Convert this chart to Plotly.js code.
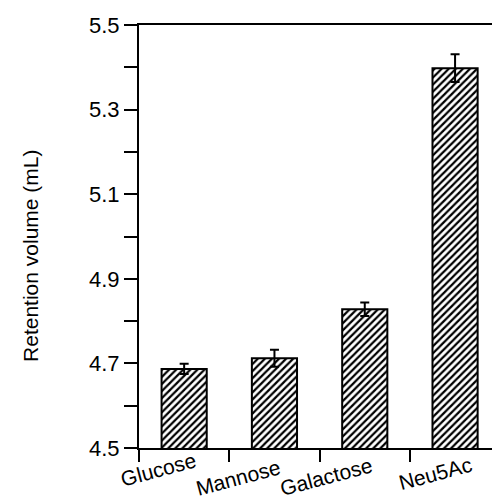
<!DOCTYPE html>
<html>
<head>
<meta charset="utf-8">
<script src="https://cdn.plot.ly/plotly-3.0.1.min.js"></script>
<style>html,body{margin:0;padding:0;background:#fff;}#chart{width:492px;height:500px;}</style>
</head>
<body>
<div id="chart"></div>
<script>
var categories = ["Glucose", "Mannose", "Galactose", "Neu5Ac"];
var retention = [4.687, 4.712, 4.828, 5.398];
var errors = [0.012, 0.020, 0.016, 0.033];
var yTickVals = [4.5, 4.7, 4.9, 5.1, 5.3, 5.5];
var yTickText = ["4.5", "4.7", "4.9", "5.1", "5.3", "5.5"];
var yTitle = "Retention volume (mL)";

var xIdx = categories.map(function (c, i) { return i; });
var boundaries = categories.map(function (c, i) { return i - 0.5; });

// label placement (layout only)
var labelShift = [-26, -36, -38, -20];
var labelY = [-0.052, -0.070, -0.068, -0.061];

var font = "Liberation Sans, Arial, sans-serif";

var trace = {
  type: "bar",
  x: xIdx,
  y: retention,
  width: 0.5,
  marker: {
    color: "white",
    line: { color: "black", width: 2 },
    pattern: { shape: "/", size: 5, solidity: 0.45, fgcolor: "black", bgcolor: "white" }
  },
  error_y: { type: "data", array: errors, visible: true, color: "black", thickness: 2, width: 4.5 },
  hoverinfo: "skip"
};

var annotations = categories.map(function (c, i) {
  return {
    text: c, x: i, xref: "x", y: labelY[i], yref: "paper",
    xanchor: "center", yanchor: "middle", xshift: labelShift[i],
    textangle: -15, showarrow: false,
    font: { family: font, size: 21, color: "black" }
  };
});
annotations.push({
  text: yTitle, x: -0.306, xref: "paper", y: 0.454, yref: "paper",
  xanchor: "center", yanchor: "middle", textangle: -90, showarrow: false,
  font: { family: font, size: 21, color: "black" }
});

var layout = {
  width: 492, height: 500,
  margin: { l: 139, r: 0, t: 25, b: 52 },
  paper_bgcolor: "white", plot_bgcolor: "white",
  showlegend: false,
  xaxis: {
    range: [-0.5, 3.409],
    tickvals: boundaries, ticktext: boundaries.map(function () { return ""; }),
    ticks: "outside", ticklen: 12, tickwidth: 2, tickcolor: "black",
    showline: true, linecolor: "black", linewidth: 2, mirror: true,
    showgrid: false, zeroline: false
  },
  yaxis: {
    range: [4.5, 5.5],
    tickvals: yTickVals, ticktext: yTickText,
    ticks: "outside", ticklen: 13, tickwidth: 2, tickcolor: "black",
    minor: { dtick: 0.1, tick0: 4.5, ticks: "outside", ticklen: 13, tickwidth: 2, tickcolor: "black", showgrid: false },
    showline: true, linecolor: "black", linewidth: 2,
    showgrid: false, zeroline: false,
    tickfont: { family: font, size: 22, color: "black" }
  },
  annotations: annotations
};

Plotly.newPlot("chart", [trace], layout, { staticPlot: true, displayModeBar: false });
</script>
</body>
</html>
